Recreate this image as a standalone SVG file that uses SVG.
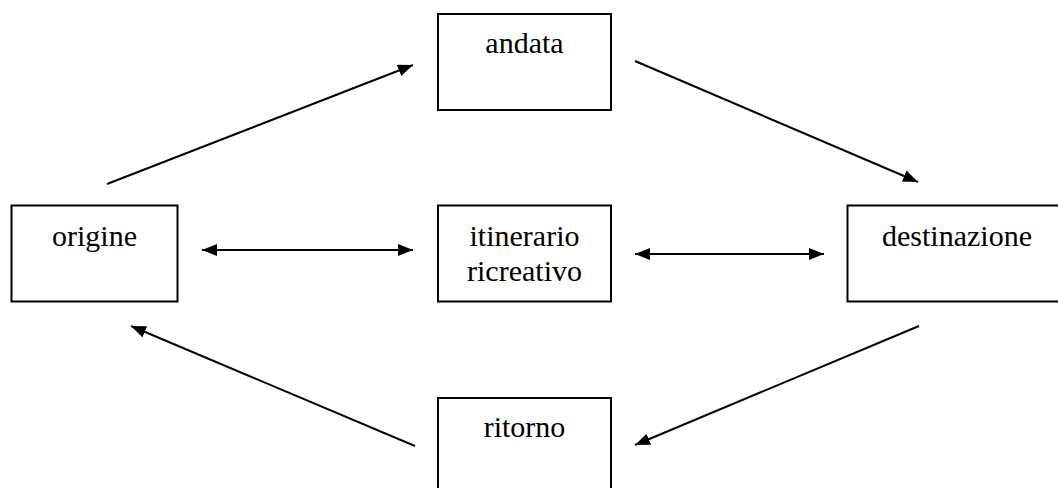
<svg xmlns="http://www.w3.org/2000/svg" width="1058" height="488" viewBox="0 0 1058 488">
  <style>
    .box { fill: #ffffff; stroke: #000000; stroke-width: 2; }
    .lbl { font-family: 'Liberation Serif', 'DejaVu Serif', 'Times New Roman', serif; font-size: 30px; fill: #000000; text-anchor: middle; }
    .conn { stroke: #000000; stroke-width: 2; fill: none; }
  </style>
  <defs>
    <marker id="ah" markerUnits="userSpaceOnUse" markerWidth="18" markerHeight="14" refX="15" refY="6" orient="auto-start-reverse">
      <path d="M0,0 L15,6 L0,12 z" fill="#000000"/>
    </marker>
  </defs>
  <rect width="1058" height="488" fill="#ffffff"/>
  <g id="andata">
    <rect class="box" x="438" y="14" width="173" height="96"/>
    <text class="lbl" x="524.5" y="53" font-family="Liberation Serif, DejaVu Serif, serif">andata</text>
  </g>
  <g id="origine">
    <rect class="box" x="11.5" y="205.5" width="166" height="96"/>
    <text class="lbl" x="94.5" y="246" font-family="Liberation Serif, DejaVu Serif, serif">origine</text>
  </g>
  <g id="itinerario">
    <rect class="box" x="438" y="205.5" width="173" height="96"/>
    <text class="lbl" x="524.5" y="246" font-family="Liberation Serif, DejaVu Serif, serif">itinerario</text>
    <text class="lbl" x="524.5" y="281" font-family="Liberation Serif, DejaVu Serif, serif">ricreativo</text>
  </g>
  <g id="destinazione">
    <rect class="box" x="847.5" y="205.5" width="220" height="96"/>
    <text class="lbl" x="957" y="246" font-family="Liberation Serif, DejaVu Serif, serif">destinazione</text>
  </g>
  <g id="ritorno">
    <rect class="box" x="438" y="398" width="173" height="100"/>
    <text class="lbl" x="524.5" y="437" font-family="Liberation Serif, DejaVu Serif, serif">ritorno</text>
  </g>
  <g id="connectors">
    <line class="conn" x1="107" y1="184" x2="413" y2="65" marker-end="url(#ah)"/>
    <line class="conn" x1="635" y1="61" x2="918" y2="182" marker-end="url(#ah)"/>
    <line class="conn" x1="919" y1="326" x2="635" y2="445" marker-end="url(#ah)"/>
    <line class="conn" x1="415" y1="446" x2="131" y2="326" marker-end="url(#ah)"/>
    <line class="conn" x1="202" y1="250" x2="413" y2="250" marker-start="url(#ah)" marker-end="url(#ah)"/>
    <line class="conn" x1="635" y1="254" x2="824" y2="254" marker-start="url(#ah)" marker-end="url(#ah)"/>
  </g>
</svg>
